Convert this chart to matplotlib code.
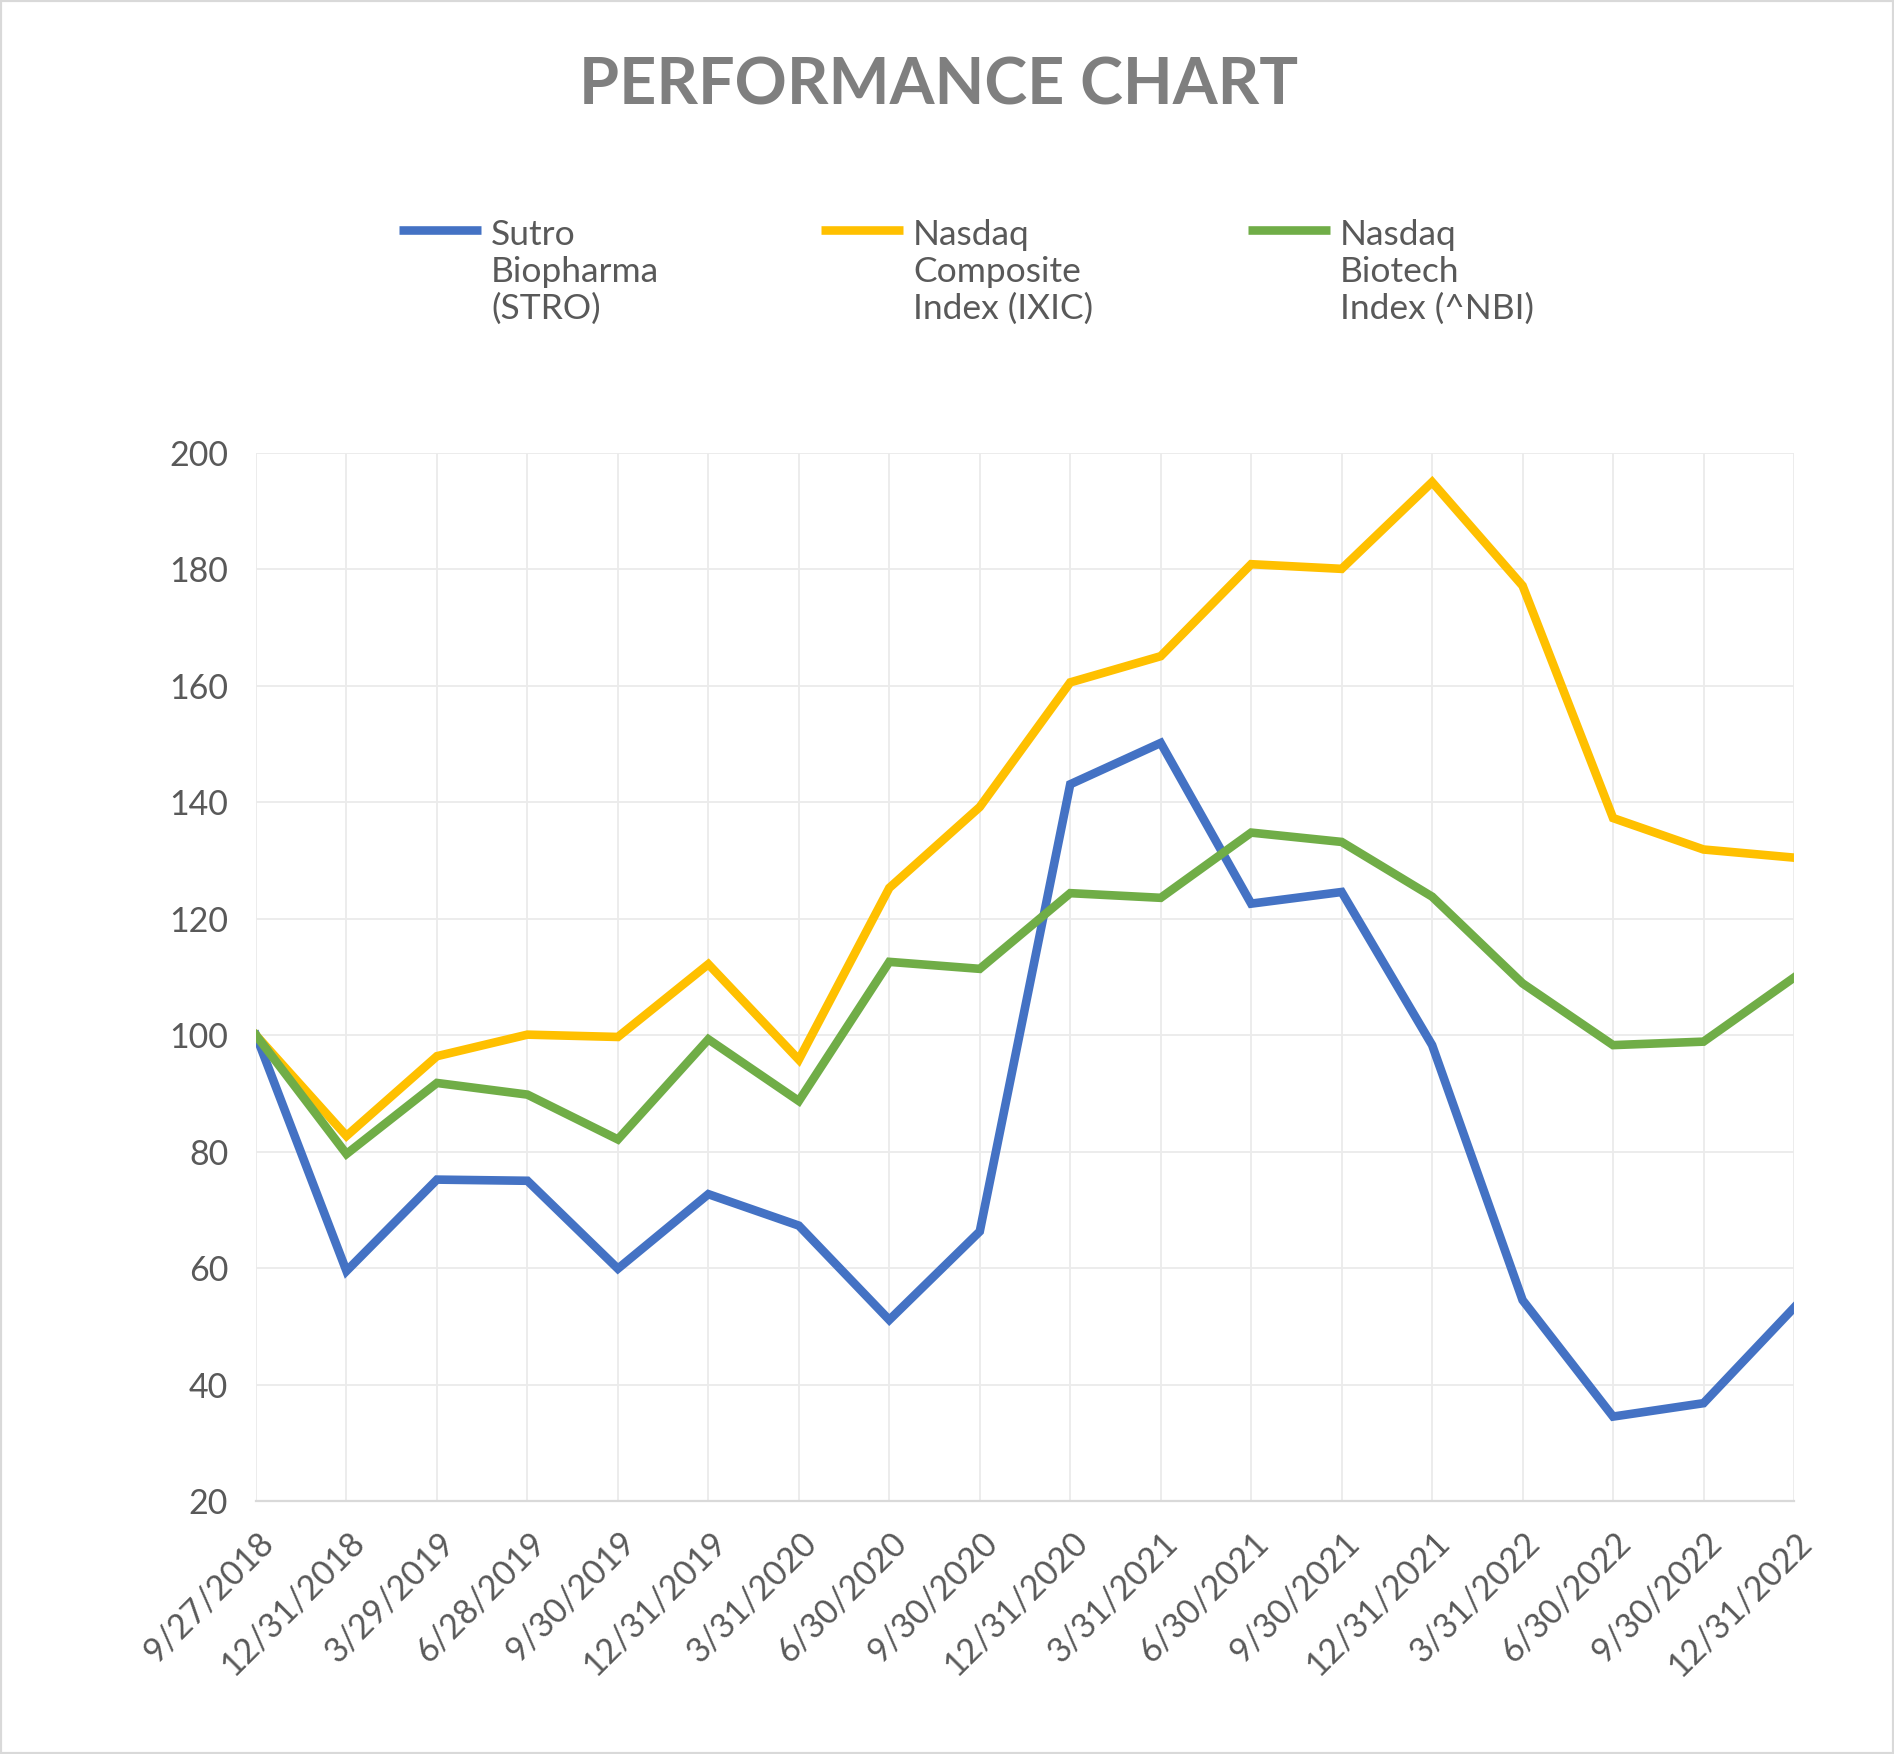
import matplotlib
matplotlib.use('Agg')
import matplotlib.pyplot as plt
import matplotlib.transforms as mtransforms
from matplotlib.lines import Line2D
from matplotlib.patches import Rectangle

plt.rcParams['font.family'] = ['Lato', 'DejaVu Sans']

dates = ['9/27/2018', '12/31/2018', '3/29/2019', '6/28/2019', '9/30/2019',
         '12/31/2019', '3/31/2020', '6/30/2020', '9/30/2020', '12/31/2020',
         '3/31/2021', '6/30/2021', '9/30/2021', '12/31/2021', '3/31/2022',
         '6/30/2022', '9/30/2022', '12/31/2022']

stro = [100, 59.5, 75.2, 75.0, 59.9, 72.7, 67.3, 51.1, 66.3, 143.1,
        150.2, 122.6, 124.6, 98.3, 54.5, 34.5, 36.8, 53.2]
ixic = [100, 82.7, 96.4, 100.1, 99.7, 112.2, 95.8, 125.3, 139.2, 160.6,
        165.1, 180.9, 180.1, 195.0, 177.2, 137.3, 131.9, 130.5]
nbi = [100, 79.6, 91.8, 89.8, 82.1, 99.3, 88.7, 112.6, 111.4, 124.4,
       123.6, 134.8, 133.2, 123.8, 108.9, 98.3, 98.9, 109.9]

names = ['Sutro\nBiopharma\n(STRO)', 'Nasdaq\nComposite\nIndex (IXIC)', 'Nasdaq\nBiotech\nIndex (^NBI)']
colors = ['#4472C4', '#FFC000', '#70AD47']
yticks = [20, 40, 60, 80, 100, 120, 140, 160, 180, 200]

txt = '#595959'
W, H = 1894, 1754
fig = plt.figure(figsize=(W / 100, H / 100), dpi=100)
ax = fig.add_axes([256 / W, 1 - 1501 / H, (1794 - 256) / W, (1501 - 453) / H])

x = list(range(len(dates)))
for vals, c in zip([stro, ixic, nbi], colors):
    ax.plot(x, vals, color=c, lw=6.2, solid_joinstyle='miter', zorder=3)

ax.set_xlim(0, len(dates) - 1)
ax.set_ylim(20, 200)
ax.set_yticks(yticks)
ax.set_xticks(x)
ax.set_xticklabels(dates)
ax.grid(True, color='#ebebeb', lw=1.3, zorder=0)
for s in ['top', 'right', 'left']:
    ax.spines[s].set_visible(False)
ax.spines['bottom'].set_color('#d9d9d9')
ax.spines['bottom'].set_linewidth(1.6)
ax.tick_params(axis='both', length=0, labelsize=24.5, labelcolor=txt)
ax.tick_params(axis='y', pad=20)
ax.tick_params(axis='x', pad=18)
off = mtransforms.ScaledTranslation(1 / 100, 0, fig.dpi_scale_trans)
for lab in ax.get_xticklabels():
    lab.set_rotation(45)
    lab.set_ha('right')
    lab.set_va('top')
    lab.set_rotation_mode('anchor')
    lab.set_transform(lab.get_transform() + off)

fig.text(939 / W, 1 - 86 / H, 'PERFORMANCE CHART', ha='center', va='center',
         fontsize=46.5, fontweight='bold', color='#7f7f7f')

# legend drawn by hand so the handle sits on the first line
hx = [399, 821, 1248]
for name, c, x0 in zip(names, colors, hx):
    fig.add_artist(Line2D([x0 / W, (x0 + 82) / W], [1 - 230 / H, 1 - 230 / H],
                          color=c, lw=6.2, solid_capstyle='butt'))
    fig.text((x0 + 92) / W, 1 - 219 / H, name, ha='left', va='top',
             fontsize=25.5, color=txt, linespacing=1.18)

fig.add_artist(Rectangle((0, 0), 1, 1, transform=fig.transFigure, fill=False,
                         edgecolor='#d9d9d9', lw=3))

fig.savefig('out.png', dpi=100)
